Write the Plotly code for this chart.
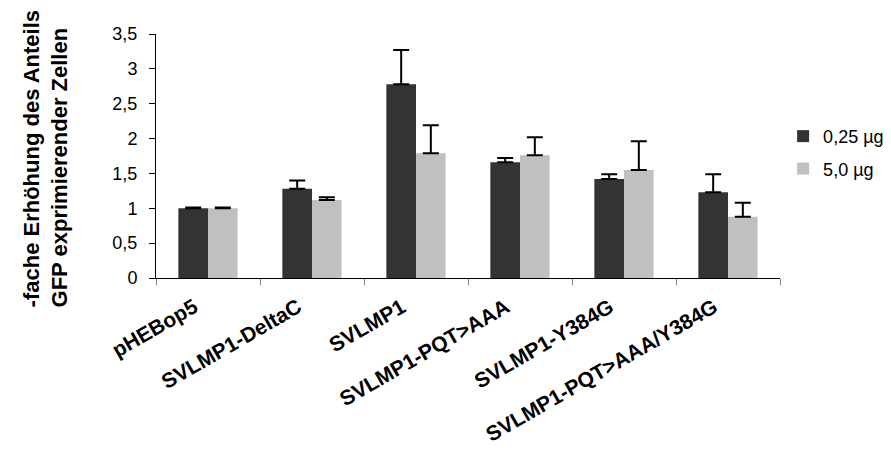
import plotly.graph_objects as go

categories = ["pHEBop5", "SVLMP1-DeltaC", "SVLMP1", "SVLMP1-PQT>AAA",
              "SVLMP1-Y384G", "SVLMP1-PQT>AAA/Y384G"]
series_names = ["0,25 µg", "5,0 µg"]
values_025 = [1.0, 1.28, 2.78, 1.66, 1.42, 1.23]
errors_025 = [0.01, 0.12, 0.49, 0.06, 0.07, 0.26]
values_50 = [1.0, 1.12, 1.79, 1.76, 1.55, 0.88]
errors_50 = [0.01, 0.04, 0.40, 0.26, 0.41, 0.20]
y_ticks = [0, 0.5, 1, 1.5, 2, 2.5, 3, 3.5]
y_title = "-fache Erhöhung des Anteils<br>GFP exprimierender Zellen"

FONT = "Arial, Liberation Sans, sans-serif"
colors = ["#333333", "#c0c0c0"]

fig = go.Figure()
for i, (name, vals, errs, col) in enumerate([
        (series_names[0], values_025, errors_025, colors[0]),
        (series_names[1], values_50, errors_50, colors[1])]):
    fig.add_trace(go.Bar(
        x=categories, y=vals, name=name, legendgroup="g%d" % i,
        marker=dict(color=col, line=dict(width=0)),
        error_y=dict(type="data", symmetric=False, array=errs,
                     arrayminus=[0] * len(errs), color="black",
                     thickness=2, width=8),
    ))

fig.update_layout(
    width=891, height=460,
    margin=dict(l=148, r=119, t=26, b=190, autoexpand=False),
    paper_bgcolor="white", plot_bgcolor="white",
    barmode="group", bargap=0.43, bargroupgap=0,
    separators=",.",
    font=dict(family=FONT, color="black"),
    showlegend=True,
    legend=dict(x=1.005, y=0.656, xanchor="left", yanchor="top",
                font=dict(size=18, family=FONT), bgcolor="rgba(0,0,0,0)",
                itemwidth=30, traceorder="grouped", tracegroupgap=6),
    xaxis=dict(
        showline=True, linecolor="black", linewidth=1,
        ticks="outside", tickson="boundaries", ticklen=6, tickcolor="#808080",
        tickangle=-30, tickfont=dict(size=21, family=FONT, weight="bold"),
        ticklabelshift=-14, ticklabelstandoff=8,
        showgrid=False, zeroline=False,
    ),
    yaxis=dict(
        range=[0, 3.5], tickvals=y_ticks,
        showline=True, linecolor="black", linewidth=1,
        ticks="outside", ticklen=6, tickcolor="black",
        tickfont=dict(size=18, family=FONT), ticklabelstandoff=8,
        showgrid=False, zeroline=False,
    ),
    annotations=[dict(
        text="<b>" + y_title + "</b>", textangle=-90, align="left",
        xref="paper", yref="paper", x=-0.1763, y=0.49,
        xanchor="center", yanchor="middle", showarrow=False,
        font=dict(size=22, family=FONT, color="black"),
    )],
)

fig.write_html("out.html")
